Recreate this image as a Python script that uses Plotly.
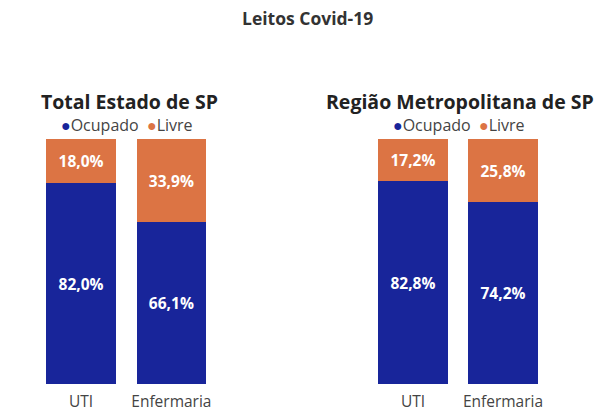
import plotly.graph_objects as go

categories = ["UTI", "Enfermaria"]
sp_ocupado = [82.0, 66.1]
sp_livre = [18.0, 33.9]
rm_ocupado = [82.8, 74.2]
rm_livre = [17.2, 25.8]

BLUE = "#18259a"
ORANGE = "#dc7444"
FONT = "Open Sans"

def fmt(v):
    return f"{v:.1f}".replace(".", ",") + "%"

fig = go.Figure()
for xa, ya, occ, liv in [("x", "y", sp_ocupado, sp_livre), ("x2", "y2", rm_ocupado, rm_livre)]:
    fig.add_trace(go.Bar(x=categories, y=occ, name="Ocupado", marker_color=BLUE,
                         text=[fmt(v) for v in occ], textposition="inside", insidetextanchor="middle",
                         textfont=dict(color="white", size=15.5, family=FONT, weight="bold"),
                         xaxis=xa, yaxis=ya, showlegend=False, marker_line_width=0))
    fig.add_trace(go.Bar(x=categories, y=liv, name="Livre", marker_color=ORANGE,
                         text=[fmt(v) for v in liv], textposition="inside", insidetextanchor="middle",
                         textfont=dict(color="white", size=15.5, family=FONT, weight="bold"),
                         xaxis=xa, yaxis=ya, showlegend=False, marker_line_width=0))

ydom = [0.0791, 0.6667]
axis_common = dict(showgrid=False, zeroline=False, showline=False, automargin=False)
fig.update_layout(
    barmode="stack",
    bargap=0.23,
    width=614, height=417,
    margin=dict(l=0, r=0, t=0, b=0),
    paper_bgcolor="white", plot_bgcolor="white",
    font=dict(family=FONT, color="#444"),
    xaxis=dict(domain=[0.0586, 0.3526], range=[-0.5, 1.5], tickfont=dict(size=15.5, color="#444"),
               ticks="", ticklabelstandoff=6, **axis_common),
    yaxis=dict(domain=ydom, range=[0, 100], showticklabels=False, **axis_common),
    xaxis2=dict(domain=[0.5993, 0.8925], range=[-0.5, 1.5], tickfont=dict(size=15.5, color="#444"),
                ticks="", ticklabelstandoff=6, **axis_common),
    yaxis2=dict(domain=ydom, range=[0, 100], showticklabels=False, anchor="x2", **axis_common),
)

ann = []
ann.append(dict(text="<b>Leitos Covid-19</b>", x=0.5, y=1 - 18/417, xref="paper", yref="paper",
                showarrow=False, font=dict(size=17.5, color="#333", family=FONT), xanchor="center", yanchor="middle"))
for cx, title in [(129/614, "Total Estado de SP"), (460/614, "Região Metropolitana de SP")]:
    ann.append(dict(text=f"<b>{title}</b>", x=cx, y=1 - 101/417, xref="paper", yref="paper",
                    showarrow=False, font=dict(size=19.5, color="#222", family=FONT), xanchor="center", yanchor="middle"))
for cx in [127/614, 459/614]:
    ann.append(dict(text=f"<span style='color:{BLUE}'>●</span>Ocupado  <span style='color:{ORANGE}'>●</span>Livre",
                    x=cx, y=1 - 125/417, xref="paper", yref="paper",
                    showarrow=False, font=dict(size=16, color="#444", family=FONT), xanchor="center", yanchor="middle"))
fig.update_layout(annotations=ann)

fig.write_html("out.html")
